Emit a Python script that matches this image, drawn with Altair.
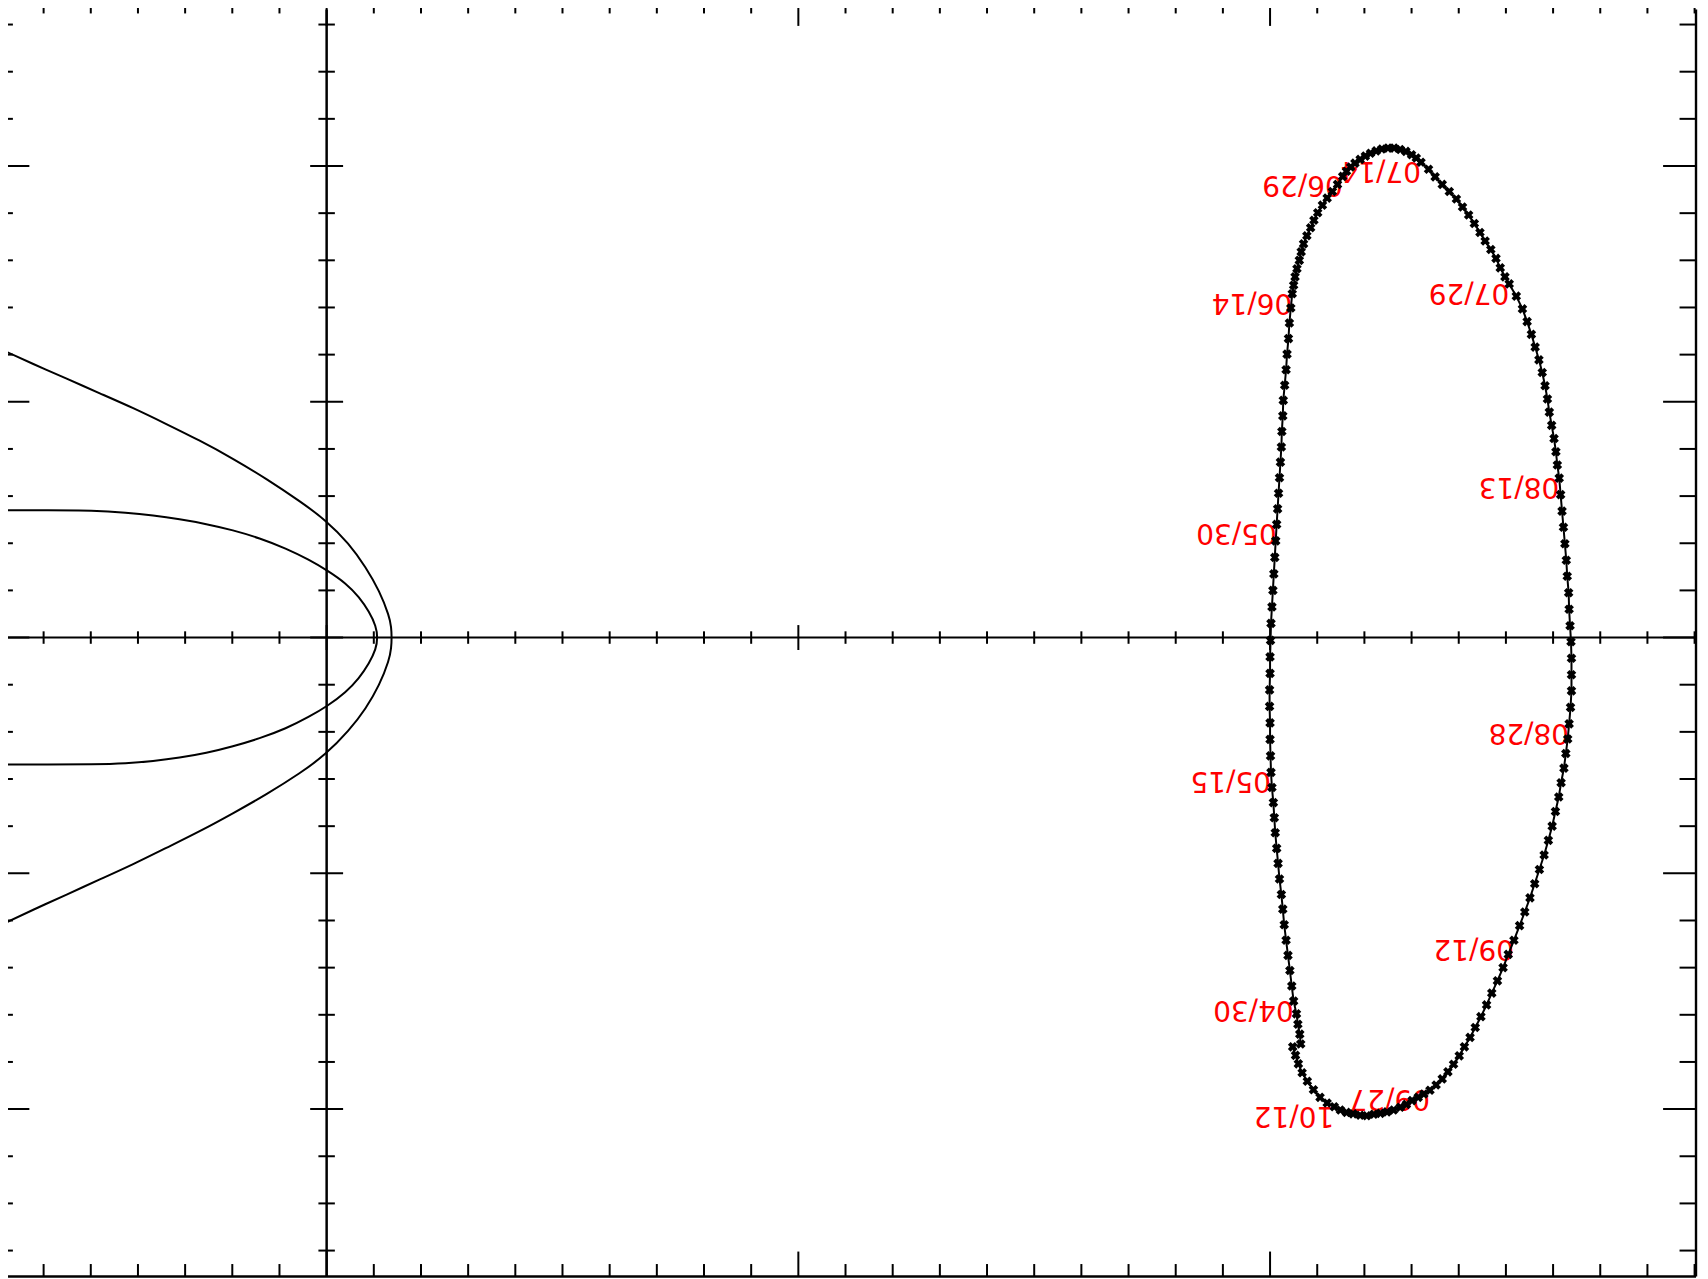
import altair as alt
import pandas as pd

# ---------------- data (in tick units) ----------------
# daily orbit positions, 04/26 .. 10/20
orbit_x = [
    20.65, 20.63, 20.59, 20.56, 20.50,
    20.46, 20.42, 20.38, 20.34, 20.30, 20.27, 20.24, 20.20, 20.17, 20.14, 20.11, 20.09, 20.07, 20.04, 20.02,
    20.01, 20.00, 20.00, 19.99, 19.99, 20.00, 20.00, 20.01, 20.02, 20.04, 20.06, 20.08, 20.10, 20.12, 20.14,
    20.16, 20.18, 20.20, 20.22, 20.24, 20.25, 20.27, 20.28, 20.31, 20.34, 20.36, 20.39, 20.41, 20.44, 20.47,
    20.50, 20.53, 20.57, 20.62, 20.66, 20.71, 20.78, 20.86, 20.93, 21.01, 21.11, 21.21, 21.32, 21.43, 21.54,
    21.62, 21.71, 21.80, 21.91, 22.02, 22.13, 22.25, 22.37, 22.50, 22.63, 22.76, 22.88, 23.00, 23.10, 23.20,
    23.36, 23.50, 23.65, 23.80, 23.95, 24.08, 24.21, 24.33, 24.45, 24.56, 24.68, 24.79, 24.88, 24.98, 25.07,
    25.22, 25.35, 25.45, 25.54, 25.62, 25.70, 25.77, 25.83, 25.88, 25.92, 25.97, 26.02, 26.06, 26.09, 26.13,
    26.16, 26.19, 26.22, 26.25, 26.28, 26.30, 26.33, 26.34, 26.36, 26.38, 26.39, 26.39, 26.39, 26.37, 26.34,
    26.31, 26.27, 26.23, 26.17, 26.12, 26.05, 25.98, 25.90, 25.81, 25.71, 25.61, 25.51, 25.40, 25.29, 25.17,
    25.05, 24.94, 24.82, 24.70, 24.59, 24.47, 24.35, 24.24, 24.12, 24.01, 23.89, 23.77, 23.65, 23.52, 23.39,
    23.26, 23.14, 23.01, 22.89, 22.76, 22.62, 22.48, 22.34, 22.20, 22.05, 21.91, 21.76, 21.62, 21.49, 21.36,
    21.21, 21.06, 20.92, 20.79, 20.68, 20.60, 20.54, 20.48,
]
orbit_y = [
    -8.62, -8.41, -8.20, -7.98, -7.71,
    -7.39, -7.06, -6.74, -6.42, -6.09, -5.76, -5.45, -5.12, -4.79, -4.47, -4.14, -3.82, -3.50, -3.18, -2.86,
    -2.51, -2.16, -1.81, -1.46, -1.11, -0.76, -0.41, -0.06, 0.30, 0.65, 1.00, 1.35, 1.70, 2.05, 2.40,
    2.73, 3.06, 3.39, 3.72, 4.04, 4.37, 4.70, 5.03, 5.35, 5.68, 6.01, 6.34, 6.67, 6.99, 7.29,
    7.47, 7.65, 7.82, 8.00, 8.18, 8.35, 8.52, 8.69, 8.85, 9.01, 9.17, 9.32, 9.46, 9.61, 9.78,
    9.89, 9.98, 10.06, 10.14, 10.21, 10.27, 10.32, 10.36, 10.38, 10.38, 10.35, 10.31, 10.24, 10.17, 10.08,
    9.93, 9.77, 9.61, 9.46, 9.30, 9.13, 8.96, 8.78, 8.59, 8.41, 8.23, 8.04, 7.84, 7.65, 7.50,
    7.24, 6.97, 6.70, 6.43, 6.16, 5.89, 5.62, 5.34, 5.06, 4.78, 4.50, 4.22, 3.94, 3.66, 3.38,
    3.03, 2.68, 2.34, 1.99, 1.64, 1.30, 0.95, 0.60, 0.25, -0.09, -0.44, -0.79, -1.13, -1.48, -1.83,
    -2.15, -2.46, -2.77, -3.08, -3.38, -3.69, -4.00, -4.30, -4.61, -4.92, -5.22, -5.52, -5.82, -6.11, -6.42,
    -6.72, -7.00, -7.28, -7.54, -7.79, -8.04, -8.27, -8.48, -8.68, -8.87, -9.05, -9.21, -9.36, -9.49, -9.60,
    -9.68, -9.75, -9.82, -9.90, -9.96, -10.02, -10.06, -10.09, -10.11, -10.14, -10.13, -10.10, -10.07, -10.02, -9.95,
    -9.87, -9.75, -9.59, -9.41, -9.23, -9.04, -8.86, -8.68,
]
first_day = "2000-04-26"
last_day = "2000-10-20"
label_dates = ["04/30", "05/15", "05/30", "06/14", "06/29", "07/14",
               "07/29", "08/13", "08/28", "09/12", "09/27", "10/12"]

# outer and inner curves on the left (upper branch, apex, lower branch)
outer_x = [-6.92, -6.22, -5.51, -4.81, -4.10, -3.40, -2.69, -1.99, -1.28, -0.55, -0.03, 0.48, 0.83, 1.12,
           1.33, 1.37, 1.38, 1.37, 1.33, 1.12, 0.83, 0.48, -0.03, -0.55, -1.28, -1.99, -2.69, -3.40,
           -4.10, -4.81, -5.51, -6.22, -6.92]
outer_y = [6.12, 5.80, 5.49, 5.18, 4.87, 4.53, 4.18, 3.80, 3.37, 2.88, 2.50, 1.99, 1.49, 0.99,
           0.45, 0.22, 0.0, -0.22, -0.47, -1.01, -1.51, -1.97, -2.49, -2.87, -3.33, -3.73, -4.11, -4.46,
           -4.81, -5.13, -5.45, -5.77, -6.10]
inner_x = [-6.92, -5.90, -4.95, -4.24, -3.68, -3.12, -2.55, -1.99, -1.42, -0.86, -0.37, 0.02, 0.41, 0.69,
           0.90, 1.05, 1.08, 1.05, 0.90, 0.69, 0.41, 0.02, -0.37, -0.86, -1.42, -1.99, -2.55, -3.12,
           -3.68, -4.24, -4.95, -5.90, -6.92]
inner_y = [2.70, 2.70, 2.70, 2.65, 2.59, 2.51, 2.41, 2.28, 2.11, 1.89, 1.65, 1.42, 1.15, 0.86,
           0.55, 0.24, 0.0, -0.24, -0.55, -0.86, -1.16, -1.45, -1.68, -1.93, -2.14, -2.31, -2.45, -2.55,
           -2.62, -2.67, -2.69, -2.69, -2.69]

# tick values
x_minor = [-6, -5, -4, -3, -2, -1, 1, 2, 3, 4, 5, 6, 7, 8, 9, 11, 12, 13, 14, 15, 16, 17, 18, 19,
           21, 22, 23, 24, 25, 26, 27, 28, 29]
x_major = [0, 10, 20]
y_minor = [-13, -12, -11, -9, -8, -7, -6, -4, -3, -2, -1, 1, 2, 3, 4, 6, 7, 8, 9, 11, 12, 13]
y_major = [-10, -5, 0, 5, 10]

# frame limits
X_LEFT, X_RIGHT = -7.0, 29.03
Y_TOP, Y_BOTTOM = 13.5, -13.55

# ---------------- layout ----------------
X_LO, X_HI = -6.755, 29.03
Y_LO, Y_HI = -13.55, 13.319
W, H = 1692, 1270

xs = alt.Scale(domain=[X_LO, X_HI], nice=False, zero=False)
ys = alt.Scale(domain=[Y_LO, Y_HI], nice=False, zero=False)


def X(f):
    return alt.X(f, type="quantitative", scale=xs, axis=None)


def Y(f):
    return alt.Y(f, type="quantitative", scale=ys, axis=None)


def XD(v):
    return alt.XDatum(v, type="quantitative", scale=xs, axis=None)


def YD(v):
    return alt.YDatum(v, type="quantitative", scale=ys, axis=None)


dates = pd.date_range(first_day, last_day, freq="D").strftime("%m/%d").tolist()
orbit = pd.DataFrame({"x": orbit_x, "y": orbit_y, "date": dates, "i": list(range(len(orbit_x)))})
labels = orbit[orbit["date"].isin(label_dates)]

curves = pd.concat([
    pd.DataFrame({"x": outer_x, "y": outer_y, "i": list(range(len(outer_x))), "c": "outer"}),
    pd.DataFrame({"x": inner_x, "y": inner_y, "i": list(range(len(inner_x))), "c": "inner"}),
])

dxmin = pd.DataFrame({"v": x_minor})
dxmaj = pd.DataFrame({"v": x_major})
dymin = pd.DataFrame({"v": y_minor})
dymaj = pd.DataFrame({"v": y_major})

VMIN, VMAJ = 12.5, 25   # vertical tick lengths (on x axes)
HMIN, HMAJ = 16.5, 33   # horizontal tick lengths (on y axes)
TW = 2

one = pd.DataFrame({"a": [0]})
layers = []

# axis lines and frame
layers.append(alt.Chart(one).mark_rule(color="black", strokeWidth=2.5).encode(x=XD(0)))
layers.append(alt.Chart(one).mark_rule(color="black", strokeWidth=2.1).encode(y=YD(0)))
layers.append(alt.Chart(one).mark_rule(color="black", strokeWidth=2.4).encode(x=XD(X_RIGHT)))
layers.append(alt.Chart(one).mark_rule(color="black", strokeWidth=2.6).encode(y=YD(Y_BOTTOM)))


def vticks(df, length, ypos, off):
    return alt.Chart(df).mark_tick(orient="vertical", size=length, thickness=TW, color="black",
                                   opacity=1, yOffset=off).encode(x=X("v"), y=YD(ypos))


def hticks(df, length, xpos, off):
    return alt.Chart(df).mark_tick(orient="horizontal", size=length, thickness=TW, color="black",
                                   opacity=1, xOffset=off).encode(y=Y("v"), x=XD(xpos))


# top and bottom edges (inward)
layers += [vticks(dxmin, VMIN, Y_TOP, VMIN / 2), vticks(dxmaj, VMAJ, Y_TOP, VMAJ / 2),
           vticks(dxmin, VMIN, Y_BOTTOM, -VMIN / 2), vticks(dxmaj, VMAJ, Y_BOTTOM, -VMAJ / 2)]
# left and right edges (inward)
layers += [hticks(dymin, HMIN, X_LEFT, HMIN / 2), hticks(dymaj, HMAJ, X_LEFT, HMAJ / 2),
           hticks(dymin, HMIN, X_RIGHT, -HMIN / 2), hticks(dymaj, HMAJ, X_RIGHT, -HMAJ / 2)]
# central axes (crossing ticks)
layers += [vticks(dxmin, VMIN, 0, 0), vticks(dxmaj, VMAJ, 0, 0),
           hticks(dymin, HMIN, 0, 0), hticks(dymaj, HMAJ, 0, 0)]

# curves
layers.append(alt.Chart(curves).mark_line(color="black", strokeWidth=2, clip=True,
                                          interpolate="basis").encode(
    x=X("x"), y=Y("y"), order="i:Q", detail="c:N"))

# labels (drawn under the orbit markers)
layers.append(alt.Chart(labels).mark_text(angle=180, align="left", baseline="alphabetic",
                                          font="DejaVu Sans", fontSize=28, color="#ff0000").encode(
    x=X("x"), y=Y("y"), text="date:N"))

# orbit
layers.append(alt.Chart(orbit).mark_line(color="black", strokeWidth=2).encode(
    x=X("x"), y=Y("y"), order="i:Q"))
layers.append(alt.Chart(orbit).mark_point(shape="cross", angle=45, filled=True, size=95,
                                          color="black", opacity=1).encode(x=X("x"), y=Y("y")))

chart = alt.layer(*layers).properties(
    width=W, height=H,
    padding={"left": 0, "top": 0, "right": 4, "bottom": 2},
    autosize=alt.AutoSizeParams(type="none"),
    background="white",
).configure_view(stroke=None)

chart.save("out.html", embed_options={"renderer": "svg", "actions": False})
